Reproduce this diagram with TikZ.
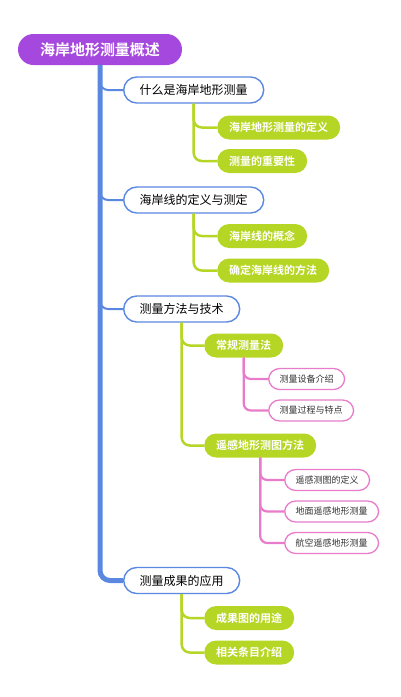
\documentclass[tikz,border=0pt]{standalone}
\usepackage{fontspec}
\newfontfamily\cjk{Noto Sans CJK SC}[BoldFont={Noto Sans CJK SC Bold}]
\usetikzlibrary{positioning}
\definecolor{rootc}{HTML}{A548DD}
\definecolor{bluec}{HTML}{5A87E0}
\definecolor{greenc}{HTML}{B6D625}
\definecolor{pinkc}{HTML}{E87CCB}

\begin{document}
\begin{tikzpicture}[x=1pt, y=-1pt, font=\cjk,
  root/.style={fill=rootc, text=white, font=\cjk\bfseries\fontsize{15}{15}\selectfont, rounded corners=15.5pt, minimum height=31pt, inner xsep=22pt},
  topic/.style={draw=bluec, line width=1.4pt, fill=white, font=\cjk\fontsize{12}{12}\selectfont, rounded corners=13pt, minimum height=26pt, inner xsep=16pt},
  sub/.style={fill=greenc, text=white, font=\cjk\bfseries\fontsize{11}{11}\selectfont, rounded corners=12pt, minimum height=24pt, inner xsep=12pt},
  leaf/.style={draw=pinkc, line width=1.3pt, fill=white, text=black!80, font=\cjk\fontsize{9}{9}\selectfont, rounded corners=11pt, minimum height=21pt, inner xsep=11pt},
  trunk/.style={bluec, line width=5pt, rounded corners=10pt},
  bline/.style={bluec, line width=2pt, rounded corners=8pt},
  gline/.style={greenc, line width=2.5pt, rounded corners=8pt},
  pline/.style={pinkc, line width=2.2pt, rounded corners=7pt}]
\useasboundingbox (0,0) rectangle (400,697);
% root and main topics
\node[root] (root) at (100,49.5) {海岸地形测量概述};
\node[topic, anchor=west] (what) at (123,90) {什么是海岸地形测量};
\node[topic, anchor=west] (line) at (123,200) {海岸线的定义与测定};
\node[topic, anchor=west] (meth) at (123,309) {测量方法与技术};
\node[topic, anchor=west] (appl) at (123,580.5) {测量成果的应用};
% second level
\node[sub, anchor=west] (def) at (217,127.5) {海岸地形测量的定义};
\node[sub, anchor=west] (imp) at (217,161) {测量的重要性};
\node[sub, anchor=west] (conc) at (217,236) {海岸线的概念};
\node[sub, anchor=west] (how) at (217,270.5) {确定海岸线的方法};
\node[sub, anchor=west] (conv) at (204,345.5) {常规测量法};
\node[sub, anchor=west] (rs) at (204,445.5) {遥感地形测图方法};
\node[sub, anchor=west] (use) at (204,618) {成果图的用途};
\node[sub, anchor=west] (rel) at (204,652.5) {相关条目介绍};
% leaves
\node[leaf, anchor=west] (equip) at (268,379) {测量设备介绍};
\node[leaf, anchor=west] (proc) at (268,410.5) {测量过程与特点};
\node[leaf, anchor=west] (rsdef) at (284,480) {遥感测图的定义};
\node[leaf, anchor=west] (grnd) at (284,511.5) {地面遥感地形测量};
\node[leaf, anchor=west] (air) at (284,543) {航空遥感地形测量};
% connectors
\draw[bline] (root.south) |- (what.west);
\draw[bline] (root.south) |- (line.west);
\draw[bline] (root.south) |- (meth.west);
\draw[trunk] (root.south) |- (appl.west);
\foreach \p/\c in {what/def, what/imp, line/conc, line/how, meth/conv, meth/rs, appl/use, appl/rel}
  \draw[gline] (\p.south) |- (\c.west);
\foreach \p/\c in {conv/equip, conv/proc, rs/rsdef, rs/grnd, rs/air}
  \draw[pline] (\p.south) |- (\c.west);
\end{tikzpicture}
\end{document}
